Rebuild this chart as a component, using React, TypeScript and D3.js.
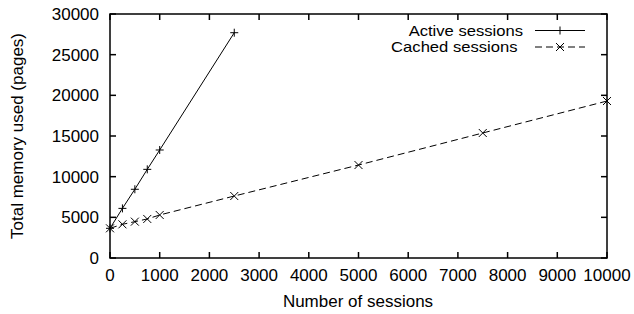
import React from 'react';
import * as d3 from 'd3';

const activeX = [0, 250, 500, 750, 1000, 2500];
const activeY = [3650, 6100, 8450, 10900, 13280, 27700];
const cachedX = [0, 250, 500, 750, 1000, 2500, 5000, 7500, 10000];
const cachedY = [3650, 4140, 4470, 4800, 5290, 7620, 11430, 15370, 19300];
const xTicks = [0, 1000, 2000, 3000, 4000, 5000, 6000, 7000, 8000, 9000, 10000];
const yTicks = [0, 5000, 10000, 15000, 20000, 25000, 30000];
const legendNames = ['Active sessions', 'Cached sessions'];

const W = 634;
const H = 314;
const left = 110;
const right = 607;
const top = 14;
const bottom = 258;
const font = 'Liberation Sans, Arial, Helvetica, sans-serif';
const fs = 17;

const Plus = ({ x, y }: { x: number; y: number }) => (
  <path d={`M${x - 4},${y}H${x + 4}M${x},${y - 4}V${y + 4}`} stroke="#000" strokeWidth={1} />
);
const Cross = ({ x, y }: { x: number; y: number }) => (
  <path d={`M${x - 4},${y - 4}L${x + 4},${y + 4}M${x - 4},${y + 4}L${x + 4},${y - 4}`} stroke="#000" strokeWidth={1} />
);

const App = () => {
  const x = d3.scaleLinear().domain([0, 10000]).range([left, right]);
  const y = d3.scaleLinear().domain([0, 30000]).range([bottom, top]);

  const active = activeX.map((v, i) => [v, activeY[i]] as [number, number]);
  const cached = cachedX.map((v, i) => [v, cachedY[i]] as [number, number]);
  const line = d3
    .line<[number, number]>()
    .x((d) => x(d[0]))
    .y((d) => y(d[1]));

  // gnuplot's right-justified legend text doesn't end at quite the same x
  const legY = [30.5, 47];
  const legX = [523, 517.5];

  return (
    <svg
      width={W}
      height={H}
      style={{ position: 'absolute', left: 0, top: 0, background: '#fff' }}
      fontFamily={font}
      fontSize={fs}
    >
      <rect x={0} y={0} width={W} height={H} fill="#fff" />
      {/* ticks, mirrored on all sides */}
      {xTicks.map((t) => (
        <g key={'x' + t}>
          <line x1={x(t)} x2={x(t)} y1={bottom} y2={bottom - 6} stroke="#000" strokeWidth={1.5} />
          <line x1={x(t)} x2={x(t)} y1={top} y2={top + 6} stroke="#000" strokeWidth={1.5} />
          <text x={x(t)} y={281} textAnchor="middle">
            {t}
          </text>
        </g>
      ))}
      {yTicks.map((t) => (
        <g key={'y' + t}>
          <line x1={left} x2={left + 6} y1={y(t)} y2={y(t)} stroke="#000" strokeWidth={1.5} />
          <line x1={right} x2={right - 6} y1={y(t)} y2={y(t)} stroke="#000" strokeWidth={1.5} />
          <text x={99} y={y(t)} dy="0.36em" textAnchor="end">
            {t}
          </text>
        </g>
      ))}
      <rect x={left} y={top} width={right - left} height={bottom - top} fill="none" stroke="#000" strokeWidth={1.5} />

      <path d={line(active) || ''} fill="none" stroke="#000" strokeWidth={1} />
      {active.map((d, i) => (
        <Plus key={i} x={x(d[0])} y={y(d[1])} />
      ))}
      <path d={line(cached) || ''} fill="none" stroke="#000" strokeWidth={1} strokeDasharray="7,4" />
      {cached.map((d, i) => (
        <Cross key={i} x={x(d[0])} y={y(d[1])} />
      ))}

      {/* legend */}
      {legendNames.map((name, i) => (
        <text
          key={name}
          transform={`translate(${legX[i]},${legY[i]}) scale(1.17,1)`}
          dy="0.36em"
          textAnchor="end"
          fontSize={14.2}
        >
          {name}
        </text>
      ))}
      <line x1={535} x2={585} y1={legY[0]} y2={legY[0]} stroke="#000" strokeWidth={1} />
      <Plus x={560} y={legY[0]} />
      <line x1={535} x2={585} y1={legY[1]} y2={legY[1]} stroke="#000" strokeWidth={1} strokeDasharray="7,4" />
      <Cross x={560} y={legY[1]} />

      <text x={358} y={307} textAnchor="middle">
        Number of sessions
      </text>
      <text transform={`translate(23,${(top + bottom) / 2}) rotate(-90)`} textAnchor="middle">
        Total memory used (pages)
      </text>
    </svg>
  );
};

export default App;
